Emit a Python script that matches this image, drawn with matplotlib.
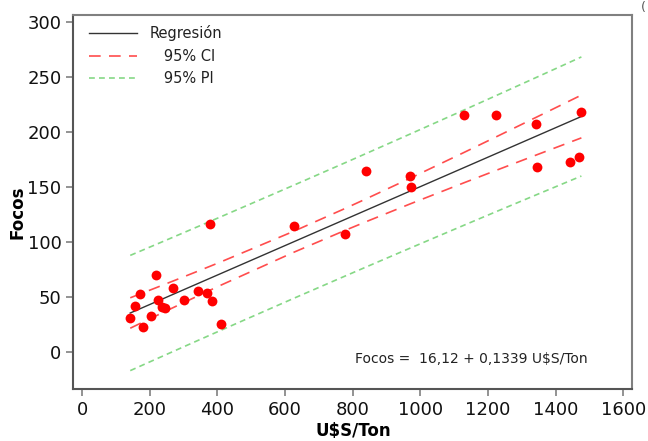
import numpy as np
import matplotlib
matplotlib.use("Agg")
import matplotlib.pyplot as plt

# Data
precio = [142, 156, 171, 180, 204, 217, 224, 237, 245, 267, 302, 342, 370, 378,
          384, 410, 626, 777, 839, 969, 972, 1130, 1223, 1341, 1344, 1443, 1470, 1476]
focos = [31, 41.5, 52, 22, 32.5, 69.5, 47, 41, 39.5, 58, 47, 55, 53, 116,
         46, 25, 114, 107, 164, 160, 149.5, 215, 215, 207, 168, 172.5, 176.5, 218]
intercepto = 16.12
pendiente = 0.1339
t_crit = 2.056

x = np.array(precio, dtype=float)
y = np.array(focos, dtype=float)
n = len(x)
order = np.argsort(x)
xs = x[order]
fit = intercepto + pendiente * xs
resid = y - (intercepto + pendiente * x)
s = np.sqrt(np.sum(resid ** 2) / (n - 2))
sxx = np.sum((x - x.mean()) ** 2)
se_mean = s * np.sqrt(1.0 / n + (xs - x.mean()) ** 2 / sxx)
se_pred = s * np.sqrt(1.0 + 1.0 / n + (xs - x.mean()) ** 2 / sxx)

fig = plt.figure(figsize=(6.48, 4.41), dpi=100)
ax = fig.add_axes([0.113, 0.118, 0.863, 0.849])

red_ci = "#ff4d4d"
green_pi = "#86d886"

ax.plot(xs, fit, color="#333333", lw=1.0, label="Regresión")
ax.plot(xs, fit + t_crit * se_mean, color=red_ci, lw=1.2, dashes=(7, 5), label="   95% CI")
ax.plot(xs, fit - t_crit * se_mean, color=red_ci, lw=1.2, dashes=(7, 5))
ax.plot(xs, fit + t_crit * se_pred, color=green_pi, lw=1.2, dashes=(3.5, 2.5), label="   95% PI")
ax.plot(xs, fit - t_crit * se_pred, color=green_pi, lw=1.2, dashes=(3.5, 2.5))
ax.scatter(x, y, s=50, color="#ff0000", zorder=3, linewidths=0)

ax.set_xlim(-26.6, 1627)
ax.set_ylim(-33.9, 306.4)
ax.set_xticks(np.arange(0, 1601, 200))
ax.set_yticks(np.arange(0, 301, 50))
ax.tick_params(axis="both", labelsize=13, length=5, width=1.2, color="#808080",
               direction="out", labelcolor="#111111")

for sp in ax.spines.values():
    sp.set_color("#808080")
    sp.set_linewidth(1.5)
ax.spines["left"].set_color("#555555")
ax.spines["bottom"].set_color("#555555")

ax.set_xlabel("U$S/Ton", fontsize=12, fontweight="bold", labelpad=2)
ax.set_ylabel("Focos", fontsize=12, fontweight="bold")
ax.yaxis.set_label_coords(-0.083, 0.473)

leg = ax.legend(loc="upper left", frameon=False, fontsize=10.5, handlelength=3.3,
                handletextpad=0.85, labelspacing=0.5, borderaxespad=0.35,
                bbox_to_anchor=(0.009, 1.0))
for t in leg.get_texts():
    t.set_color("#222222")

ax.text(807, -7, "Focos =  16,12 + 0,1339 U$S/Ton", fontsize=10, color="#222222",
        ha="left", va="center")

fig.text(0.997, 0.998, "(", fontsize=9, color="#555555", ha="right", va="top")

fig.savefig("out.png", dpi=100)
